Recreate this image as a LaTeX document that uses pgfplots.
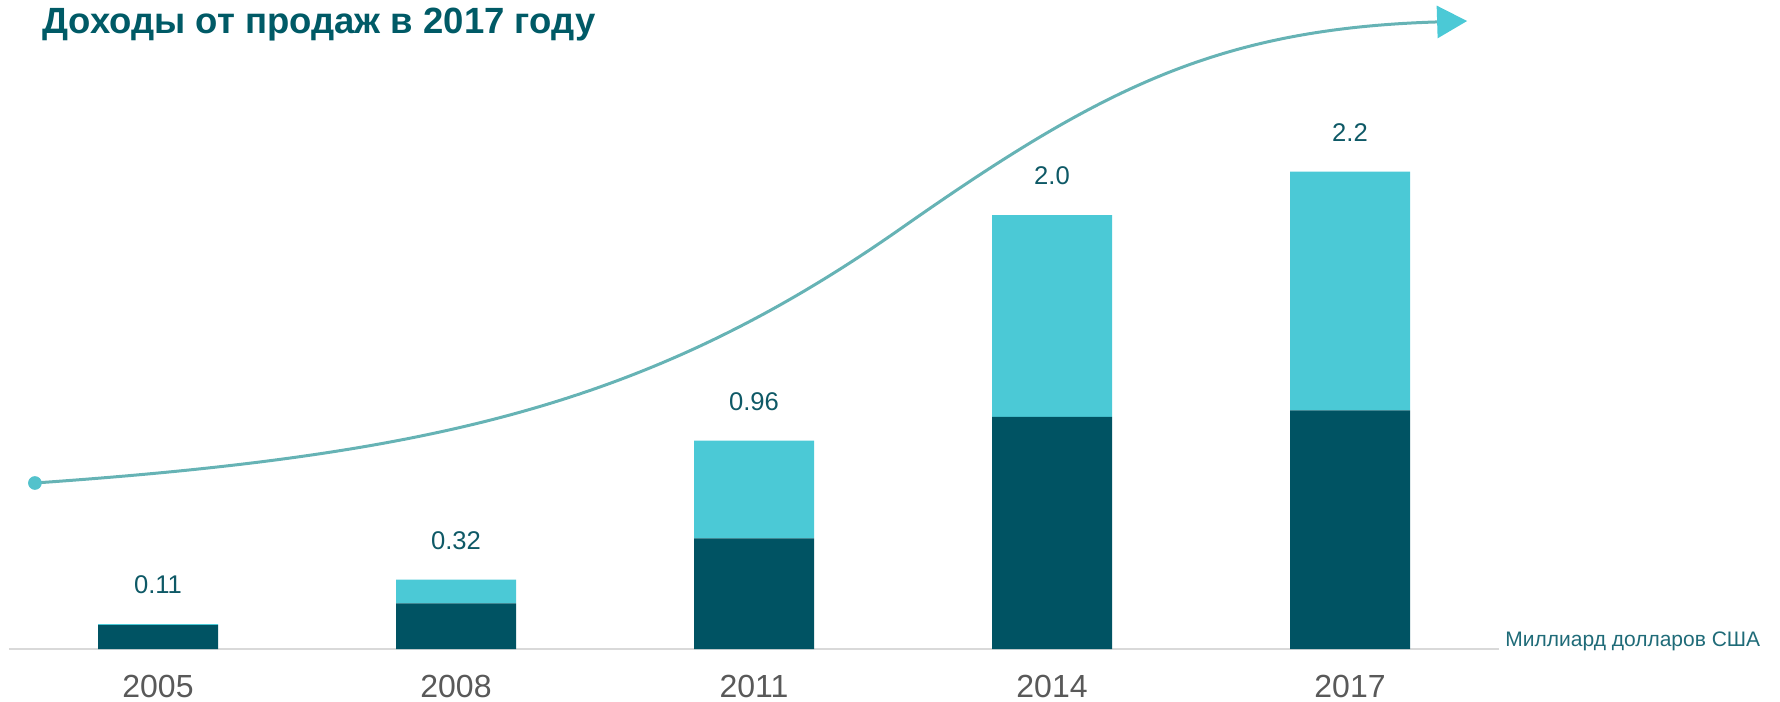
\documentclass[border=0pt]{standalone}
\usepackage{pgfplots}
\pgfplotsset{compat=1.18}
\usepackage{fontspec}
\setmainfont{Liberation Sans}
\usetikzlibrary{arrows.meta}
\definecolor{dark}{HTML}{005363}
\definecolor{light}{HTML}{4BC9D6}
\definecolor{curve}{HTML}{66B3B5}
\definecolor{titlec}{HTML}{005A66}
\definecolor{labc}{HTML}{0E5966}
\definecolor{tickc}{HTML}{595959}
\definecolor{unitc}{HTML}{1F6B78}
\definecolor{axc}{HTML}{D9D9D9}
\begin{document}
\begin{tikzpicture}
\useasboundingbox (0,0) rectangle (890pt,350.5pt);
\begin{axis}[at={(4.5pt,26pt)}, anchor=south west, scale only axis,
  width=745pt, height=324.4pt, xmin=-0.5, xmax=4.5, ymin=0, ymax=2.99,
  ybar stacked, bar width=60pt,
  axis x line*=bottom, axis y line=none,
  x axis line style={axc, line width=1pt},
  xtick={0,...,4}, xticklabels={2005,2008,2011,2014,2017},
  major tick length=0pt,
  xticklabel style={font=\fontsize{16}{16}\selectfont, text=tickc, anchor=base, yshift=-24.25pt},
  clip=false]
\addplot[fill=dark, draw=none] coordinates {(0,0.11) (1,0.21) (2,0.51) (3,1.07) (4,1.10)};
\addplot[fill=light, draw=none] coordinates {(0,0.005) (1,0.11) (2,0.45) (3,0.93) (4,1.10)};
\end{axis}
\begin{axis}[at={(4.5pt,26pt)}, anchor=south west, scale only axis,
  width=745pt, height=324.4pt, xmin=-0.5, xmax=4.5, ymin=0, ymax=2.99,
  hide axis, clip=false]
\addplot[draw=none, mark=none, nodes near coords, point meta=explicit symbolic,
  every node near coord/.append style={anchor=center, yshift=19.5pt, font=\fontsize{12.8}{12.8}\selectfont, text=labc}]
  coordinates {(0,0.115)[0.11] (1,0.32)[0.32] (2,0.96)[0.96] (3,2.0)[2.0] (4,2.2)[2.2]};
\draw[curve, line width=1.5pt, -{Triangle[length=15pt, width=16pt, color=light]}]
  (axis cs:-0.413,0.765) .. controls (axis cs:0.9295,0.894) and (axis cs:1.651,1.129) ..
  (axis cs:2.490,1.935) .. controls (axis cs:3.161,2.581) and (axis cs:3.554,2.859) ..
  (axis cs:4.393,2.894);
\addplot[only marks, mark=*, mark size=3.2pt, mark options={draw=light!70!curve, fill=light!70!curve}] coordinates {(-0.413,0.765)};
\end{axis}
\node[anchor=base west, inner sep=0pt, text=titlec, font=\fontsize{18.25}{18.25}\selectfont\bfseries] at (21pt,333.5pt) {Доходы от продаж в 2017 году};
\node[anchor=base west, inner sep=0pt, text=unitc, font=\fontsize{10.5}{10.5}\selectfont] at (752.5pt,27.5pt) {Миллиард долларов США};
\end{tikzpicture}
\end{document}
